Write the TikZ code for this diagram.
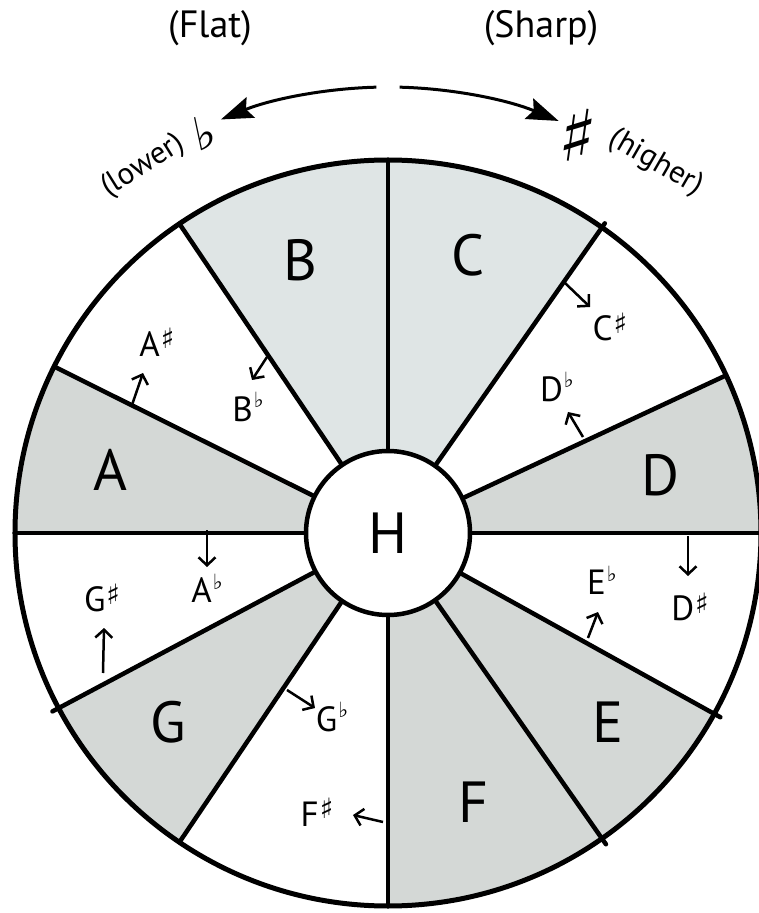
\documentclass[tikz,border=0pt]{standalone}
\usepackage{fontspec}
\setmainfont{PT Sans}
\newfontfamily\musicsym{DejaVu Sans}
\usetikzlibrary{arrows.meta}
\definecolor{wedgegrey}{HTML}{D4D8D6}
\definecolor{wedgepale}{HTML}{DFE5E5}
\newcommand{\shp}{\kern1pt\raisebox{0.22em}{\fontsize{28}{28}\musicsym ♯}}
\newcommand{\flt}{\kern1pt\raisebox{0.38em}{\fontsize{21}{21}\musicsym ♭}}
\tikzset{
  wheelline/.style={line width=4.5pt, line cap=round},
  keyletter/.style={font=\fontsize{58}{60}\selectfont, inner sep=0pt},
  notelabel/.style={font=\fontsize{35}{38}\selectfont, inner sep=0pt},
  headlabel/.style={font=\fontsize{38}{42}\selectfont, inner sep=0pt},
  sidelabel/.style={font=\fontsize{31}{34}\selectfont, inner sep=0pt},
  steparrow/.style={-{Straight Barb[length=8pt, width=17pt]}, line width=2.5pt},
  swingarrow/.style={-{Stealth[length=32pt, width=22pt, inset=5pt]}, line width=3pt}
}

\begin{document}
\begin{tikzpicture}[x=1pt, y=1pt]
\useasboundingbox (-388,-380) rectangle (370,533);

% wedges of the wheel
\foreach \from/\to/\tone in {55/90/wedgepale, 90/124/wedgepale, 153.5/180/wedgegrey,
    208/236/wedgegrey, 270/305/wedgegrey, 305/331/wedgegrey, 0/25/wedgegrey}
  \fill[\tone] (0,0) -- (\from:373) arc[start angle=\from, end angle=\to, radius=373] -- cycle;
\foreach \ang/\len in {90/373, 124/373, 153.5/373, 180/373, 208/380, 236/373,
    270/373, 305/380, 331/380, 0/373, 25/373, 55/378}
  \draw[wheelline] (\ang:82) -- (\ang:\len);
\draw[line width=5pt] (0,0) circle[radius=373];
\node[draw, circle, fill=white, line width=4.5pt, minimum size=164pt, keyletter] (hub) at (0,0) {H};

% natural notes
\node[keyletter] (keyA) at (-278,63) {A};
\node[keyletter] (keyB) at (-88,273) {B};
\node[keyletter] (keyC) at (80,278) {C};
\node[keyletter] (keyD) at (272,58) {D};
\node[keyletter] (keyE) at (220,-189) {E};
\node[keyletter] (keyF) at (85,-269) {F};
\node[keyletter] (keyG) at (-220,-189) {G};

% sharps and flats
\node[notelabel] (asharp) at (-231,191) {A\shp};
\node[notelabel] (bflat) at (-140,126) {B\flt};
\node[notelabel] (csharp) at (222,206) {C\shp};
\node[notelabel] (dflat) at (169,146) {D\flt};
\node[notelabel] (dsharp) at (302,-74) {D\shp};
\node[notelabel] (eflat) at (214,-47) {E\flt};
\node[notelabel] (aflat) at (-181,-55) {A\flt};
\node[notelabel] (gsharp) at (-286,-65) {G\shp};
\node[notelabel] (gflat) at (-56,-184) {G\flt};
\node[notelabel] (fsharp) at (-71,-279) {F\shp};

\coordinate (asharpfrom) at (-256,128);  \coordinate (asharpto) at (-245,160);
\coordinate (bflatfrom) at (-121,176);   \coordinate (bflatto) at (-136,153);
\coordinate (csharpfrom) at (177,250);   \coordinate (csharpto) at (202,226);
\coordinate (dflatfrom) at (195,96);     \coordinate (dflatto) at (180,121);
\coordinate (dsharpfrom) at (300,-3);    \coordinate (dsharpto) at (300,-43);
\coordinate (eflatfrom) at (200,-105);   \coordinate (eflatto) at (210,-79);
\coordinate (aflatfrom) at (-181,3);     \coordinate (aflatto) at (-181,-34);
\coordinate (gsharpfrom) at (-285,-140); \coordinate (gsharpto) at (-284,-95);
\coordinate (gflatfrom) at (-101,-157);  \coordinate (gflatto) at (-73,-175);
\coordinate (fsharpfrom) at (-5,-289);   \coordinate (fsharpto) at (-35,-282);
\foreach \n in {asharp, bflat, csharp, dflat, dsharp, eflat, aflat, gsharp, gflat, fsharp}
  \draw[steparrow] (\n from) -- (\n to);

% direction heading
\node[headlabel] (flathead) at (-178,505) {(Flat)};
\node[headlabel] (sharphead) at (153,505) {(Sharp)};
\node[sidelabel, rotate=32] (lower) at (-245,367) {(lower)};
\node[font=\fontsize{46}{48}\musicsym, inner sep=0pt, rotate=12] (flatsym) at (-183,400) {♭};
\node[font=\fontsize{74}{76}\musicsym, inner sep=0pt, rotate=-8] (sharpsym) at (190,398) {♯};
\node[sidelabel, rotate=-30] (higher) at (268,370) {(higher)};
\coordinate (flatstart) at (91.5:446);
\coordinate (sharpstart) at (88.5:446);
\draw[swingarrow] (flatstart) arc[start angle=91.5, end angle=112, radius=446];
\draw[swingarrow] (sharpstart) arc[start angle=88.5, end angle=67.5, radius=446];
\end{tikzpicture}
\end{document}
